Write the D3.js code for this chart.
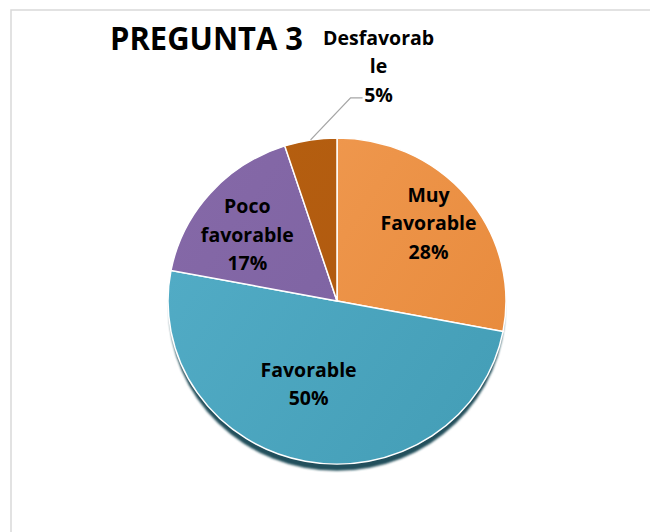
<!DOCTYPE html>
<meta charset="utf-8">
<script src="https://d3js.org/d3.v7.min.js"></script>
<style>
  body { margin: 0; background: #fff; }
  text { font-family: "Open Sans", "Noto Sans", sans-serif; font-weight: bold; fill: #000; }
</style>
<div id="chart"></div>
<script>

// data
var categories = ["Muy Favorable", "Favorable", "Poco favorable", "Desfavorable"];
var values = [28, 50, 17, 5];
var labelLines = [["Muy", "Favorable"], ["Favorable"], ["Poco", "favorable"], ["Desfavorab", "le"]];
var colors = [["#f29d55", "#e88b3d"], ["#54aec8", "#459fb8"], ["#8669a8", "#7a61a0"], ["#b7610f", "#ad5611"]];
var title = "PREGUNTA 3";

var width = 650, height = 532;
var cx = 337, cy = 301, r = 169, squash = 0.965;

var svg = d3.select("#chart").append("svg")
    .attr("width", width)
    .attr("height", height);

// chart frame (only top and left edge fall inside the picture)
svg.append("rect")
    .attr("x", 11).attr("y", 10)
    .attr("width", 800).attr("height", 700)
    .attr("fill", "none")
    .attr("stroke", "#d9d9d9")
    .attr("stroke-width", 1.5);

var defs = svg.append("defs");
colors.forEach(function(c, i) {
  var g = defs.append("linearGradient")
      .attr("id", "grad" + i)
      .attr("gradientUnits", "userSpaceOnUse")
      .attr("x1", -r).attr("y1", -r)
      .attr("x2", r).attr("y2", r * 0.3);
  g.append("stop").attr("offset", "0%").attr("stop-color", c[0]);
  g.append("stop").attr("offset", "100%").attr("stop-color", c[1]);
});
defs.append("filter").attr("id", "blur")
  .append("feGaussianBlur").attr("stdDeviation", 1.2);

var pie = d3.pie().sort(null).value(function(d) { return d; });
var arcs = pie(values);
var arc = d3.arc().innerRadius(0).outerRadius(r);

var g = svg.append("g")
    .attr("transform", "translate(" + cx + "," + cy + ") scale(1," + squash + ")");

// shadow under the pie
g.append("circle")
    .attr("cx", 0).attr("cy", 8)
    .attr("r", r - 1)
    .attr("fill", "#244f5b")
    .attr("filter", "url(#blur)");

g.selectAll("path.slice")
  .data(arcs)
  .enter().append("path")
    .attr("class", "slice")
    .attr("d", arc)
    .attr("fill", function(d, i) { return "url(#grad" + i + ")"; })
    .attr("stroke", "#fff")
    .attr("stroke-width", 1.5);

var total = d3.sum(values);
function pct(v) { return Math.round(v / total * 100) + "%"; }

var fontSize = 19.5, lh = 28.5;
var labelRadius = [0.68, 0.55, 0.66];
var labelShift = [[3, -7], [-11, -5], [-6, 5]];

// inside labels
arcs.forEach(function(d, i) {
  if (i >= labelRadius.length) return;
  var la = d3.arc().innerRadius(r * labelRadius[i]).outerRadius(r * labelRadius[i]);
  var c = la.centroid(d);
  var lines = labelLines[i].concat([pct(values[i])]);
  var t = svg.append("text")
      .attr("text-anchor", "middle")
      .style("font-size", fontSize + "px");
  lines.forEach(function(s, k) {
    t.append("tspan")
      .attr("x", cx + c[0] + labelShift[i][0])
      .attr("y", cy + c[1] * squash + (k - (lines.length - 1) / 2) * lh + 7 + labelShift[i][1])
      .text(s);
  });
});

// outside label with leader line for the small slice
var last = arcs[arcs.length - 1];
var mid = (last.startAngle + last.endAngle) / 2;
var ex = cx + r * Math.sin(mid), ey = cy - r * Math.cos(mid) * squash;
var elx = ex + 40, ely = ey - 42;
svg.append("polyline")
    .attr("points", [[ex, ey], [elx, ely], [elx + 12, ely]].join(" "))
    .attr("fill", "none")
    .attr("stroke", "#a6a6a6")
    .attr("stroke-width", 1.3);

var outLines = labelLines[3].concat([pct(values[3])]);
var ot = svg.append("text")
    .attr("text-anchor", "middle")
    .style("font-size", fontSize + "px");
outLines.forEach(function(s, k) {
  ot.append("tspan")
    .attr("x", elx + 28)
    .attr("y", ely + 4 - (outLines.length - 1 - k) * lh)
    .text(s);
});

svg.append("text")
    .attr("x", 110)
    .attr("y", 50)
    .attr("textLength", 193)
    .attr("lengthAdjust", "spacingAndGlyphs")
    .style("font-size", "32px")
    .text(title);

</script>
